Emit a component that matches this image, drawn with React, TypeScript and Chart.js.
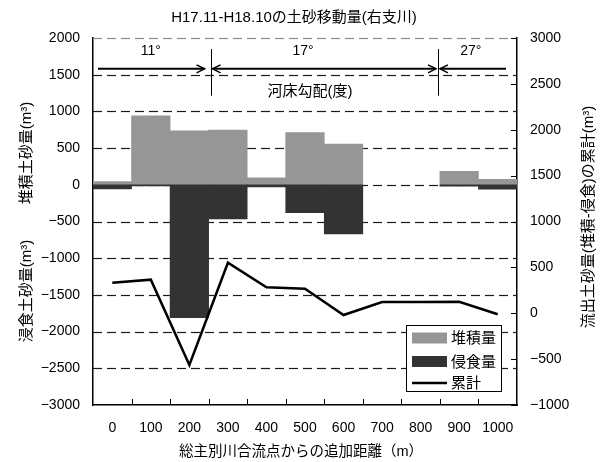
import { useEffect, useRef } from 'react';
import { Chart, registerables } from 'chart.js';

Chart.register(...registerables);

// ---- data ----
const categories = ['0', '100', '200', '300', '400', '500', '600', '700', '800', '900', '1000'];
const depositVolume = [45, 940, 735, 745, 95, 710, 555, null, null, 185, 75];
const erosionVolume = [-55, -15, -1810, -466, -30, -380, -670, null, null, -20, -60];
const cumulativeVolume = [333, 366, -564, 551, 283, 268, -19, 123, 123, 126, -11];

const leftMin = -3000;
const leftMax = 2000;
const rightMin = -1000;
const rightMax = 3000;
const tickStep = 500;

// bed-slope annotation (distance in m, left-axis values)
const slopeLabels = ['11°', '17°', '27°'];
const slopeLabelDistance = [100, 495, 930];
const slopeBreakDistance = [255, 845];
const slopeCaption = '河床勾配(度)';

const titleText = 'H17.11-H18.10の土砂移動量(右支川)';
const xTitle = '総主別川合流点からの追加距離（m）';
const yTitleUpper = '堆積土砂量(m³)';
const yTitleLower = '浸食土砂量(m³)';
const y1Title = '流出土砂量(堆積-侵食)の累計(m³)';

const FONT = "'Liberation Sans', 'Noto Sans CJK JP', sans-serif";
const GRAY = '#969696';
const DARK = '#333333';

const fmt = (v: number | string) => String(v).replace('-', '\u2212');

const gridPlugin = {
  id: 'dashedGrid',
  beforeDatasetsDraw(chart: any) {
    const { ctx, chartArea: ca, scales } = chart;
    const ys = scales.y;
    ctx.save();
    ctx.lineWidth = 1.2;
    for (let v = leftMin + tickStep; v <= leftMax; v += tickStep) {
      const py = Math.round(ys.getPixelForValue(v)) + 0.5;
      ctx.strokeStyle = v === leftMax ? '#8a8a8a' : '#1a1a1a';
      for (let x = ca.left; x < ca.right; x += 14) {
        ctx.beginPath();
        ctx.moveTo(x, py);
        ctx.lineTo(Math.min(x + 9, ca.right), py);
        ctx.stroke();
      }
    }
    ctx.restore();
  },
};

const overlay = {
  id: 'overlay',
  afterDraw(chart: any) {
    const { ctx, chartArea: ca, scales } = chart;
    const xs = scales.x;
    const ys = scales.y;
    const y1s = scales.y1;
    const dpx = (d: number) => xs.getPixelForValue(d / 100);

    ctx.save();
    ctx.lineCap = 'butt';

    // inward ticks on x axis (category boundaries)
    ctx.strokeStyle = '#000';
    ctx.lineWidth = 1;
    for (let i = 1; i < categories.length; i++) {
      const px = Math.round(xs.getPixelForValue(i - 0.5)) + 0.5;
      ctx.beginPath();
      ctx.moveTo(px, ca.bottom);
      ctx.lineTo(px, ca.bottom - 6);
      ctx.stroke();
    }
    // inward ticks on right axis
    for (let v = rightMin; v <= rightMax; v += tickStep) {
      const py = Math.round(y1s.getPixelForValue(v)) + 0.5;
      ctx.beginPath();
      ctx.moveTo(ca.right, py);
      ctx.lineTo(ca.right - 6, py);
      ctx.stroke();
    }

    // slope annotation
    const arrowY = ys.getPixelForValue(1580);
    const vTop = ys.getPixelForValue(1850);
    const vBot = ys.getPixelForValue(1215);
    const b1 = dpx(slopeBreakDistance[0]);
    const b2 = dpx(slopeBreakDistance[1]);
    ctx.strokeStyle = '#000';
    ctx.lineWidth = 1;
    [b1, b2].forEach((bx) => {
      ctx.beginPath();
      ctx.moveTo(Math.round(bx) + 0.5, vTop);
      ctx.lineTo(Math.round(bx) + 0.5, vBot);
      ctx.stroke();
    });
    const arrow = (x1: number, x2: number, headL: boolean, headR: boolean) => {
      ctx.lineWidth = 2;
      ctx.beginPath();
      ctx.moveTo(x1, arrowY);
      ctx.lineTo(x2, arrowY);
      ctx.stroke();
      ctx.lineWidth = 1.5;
      if (headR) {
        ctx.beginPath();
        ctx.moveTo(x2 - 8, arrowY - 4);
        ctx.lineTo(x2, arrowY);
        ctx.lineTo(x2 - 8, arrowY + 4);
        ctx.stroke();
      }
      if (headL) {
        ctx.beginPath();
        ctx.moveTo(x1 + 8, arrowY - 4);
        ctx.lineTo(x1, arrowY);
        ctx.lineTo(x1 + 8, arrowY + 4);
        ctx.stroke();
      }
    };
    arrow(ca.left + 5, b1 - 6, false, true);
    arrow(b1 + 2, b2 - 2, true, true);
    arrow(b2 + 2, ca.right - 11, true, false);

    ctx.fillStyle = '#000';
    ctx.textAlign = 'center';
    ctx.textBaseline = 'middle';
    ctx.font = `14px ${FONT}`;
    const labelY = ys.getPixelForValue(1820);
    slopeLabels.forEach((t, i) => ctx.fillText(t, dpx(slopeLabelDistance[i]), labelY));
    ctx.font = `15px ${FONT}`;
    ctx.fillText(slopeCaption, dpx(513), ys.getPixelForValue(1264));

    // legend
    const lx = 406.5, ly = 325.5, lw = 95, lh = 66;
    ctx.fillStyle = '#fff';
    ctx.fillRect(lx, ly, lw, lh);
    ctx.strokeStyle = '#000';
    ctx.lineWidth = 1;
    ctx.strokeRect(lx, ly, lw, lh);
    const ds = chart.data.datasets;
    const rows = [338, 361.5, 383];
    ctx.font = `15px ${FONT}`;
    ctx.textAlign = 'left';
    ds.forEach((d: any, i: number) => {
      const ry = rows[i];
      if (d.type === 'line') {
        ctx.strokeStyle = d.borderColor;
        ctx.lineWidth = 2.5;
        ctx.beginPath();
        ctx.moveTo(412, ry);
        ctx.lineTo(447, ry);
        ctx.stroke();
      } else {
        ctx.fillStyle = d.backgroundColor;
        ctx.fillRect(412, ry - 5.5, 35, 11);
      }
      ctx.fillStyle = '#000';
      ctx.fillText(d.label, 451, ry + 1);
    });

    // axis titles
    ctx.fillStyle = '#000';
    ctx.textAlign = 'center';
    ctx.textBaseline = 'middle';
    ctx.font = `15px ${FONT}`;
    const vtext = (t: string, cx: number, cy: number) => {
      ctx.save();
      ctx.translate(cx, cy);
      ctx.rotate(-Math.PI / 2);
      ctx.fillText(t, 0, 0);
      ctx.restore();
    };
    vtext(yTitleUpper, 27, 153);
    vtext(yTitleLower, 27, 291);
    vtext(y1Title, 589, 217);
    ctx.font = `14.5px ${FONT}`;
    ctx.fillText(xTitle, (ca.left + ca.right) / 2 - 4, 452);

    // chart title
    ctx.font = `15px ${FONT}`;
    ctx.fillText(titleText, 294, 18);

    ctx.restore();
  },
};

export default function App() {
  const ref = useRef<HTMLCanvasElement | null>(null);

  useEffect(() => {
    document.body.style.margin = '0';
    const canvas = ref.current;
    if (!canvas) return;
    const chart = new Chart(canvas, {
      type: 'bar',
      data: {
        labels: categories,
        datasets: [
          {
            type: 'bar',
            label: '堆積量',
            data: depositVolume,
            backgroundColor: GRAY,
            yAxisID: 'y',
            barPercentage: 1,
            categoryPercentage: 1,
            grouped: false,
            order: 2,
          } as any,
          {
            type: 'bar',
            label: '侵食量',
            data: erosionVolume,
            backgroundColor: DARK,
            yAxisID: 'y',
            barPercentage: 1,
            categoryPercentage: 1,
            grouped: false,
            order: 1,
          } as any,
          {
            type: 'line',
            label: '累計',
            data: cumulativeVolume,
            borderColor: '#000',
            backgroundColor: '#000',
            borderWidth: 2.5,
            pointRadius: 0,
            tension: 0,
            yAxisID: 'y1',
            order: 0,
          } as any,
        ],
      },
      options: {
        animation: false,
        responsive: true,
        maintainAspectRatio: false,
        devicePixelRatio: 1,
        layout: { padding: { top: 38, left: 0, right: 0, bottom: 0 } },
        plugins: {
          legend: { display: false },
          title: { display: false },
          tooltip: { enabled: false },
        },
        scales: {
          x: {
            offset: true,
            grid: { display: false, drawTicks: false },
            border: { display: true, color: '#000', width: 1.5 },
            ticks: {
              color: '#000',
              font: { family: FONT, size: 14 },
              padding: 15,
              maxRotation: 0,
              autoSkip: false,
            },
            afterFit: (s: any) => {
              s.height = 57;
            },
          },
          y: {
            position: 'left',
            min: leftMin,
            max: leftMax,
            ticks: {
              stepSize: tickStep,
              color: '#000',
              font: { family: FONT, size: 14 },
              padding: 13,
              callback: (v: any) => fmt(v),
            },
            grid: { display: false, drawTicks: false },
            border: { display: true, color: '#000', width: 1.5 },
            afterFit: (s: any) => {
              s.width = 93;
            },
          },
          y1: {
            position: 'right',
            min: rightMin,
            max: rightMax,
            ticks: {
              stepSize: tickStep,
              color: '#000',
              font: { family: FONT, size: 14 },
              padding: 13,
              callback: (v: any) => fmt(v),
            },
            grid: { display: false, drawTicks: false },
            border: { display: true, color: '#000', width: 1.5 },
            afterFit: (s: any) => {
              s.width = 86;
            },
          },
        },
      } as any,
      plugins: [gridPlugin, overlay],
    });
    return () => chart.destroy();
  }, []);

  return (
    <div style={{ position: 'absolute', left: 0, top: 0, width: 603, height: 462 }}>
      <canvas ref={ref} />
    </div>
  );
}
